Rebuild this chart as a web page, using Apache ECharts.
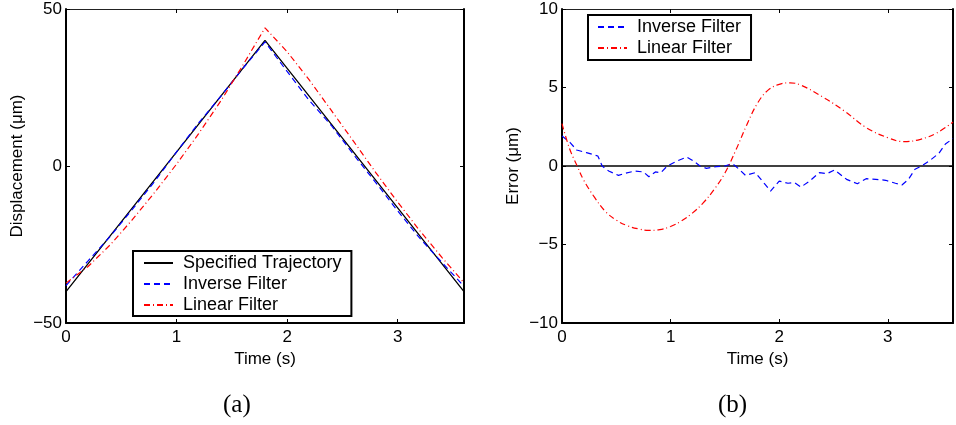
<!DOCTYPE html>
<html>
<head>
<meta charset="utf-8">
<script src="https://cdn.jsdelivr.net/npm/echarts@6/dist/echarts.min.js"></script>
<style>html,body{margin:0;padding:0;background:#fff}#c{width:956px;height:425px}</style>
</head>
<body>
<div id="c"></div>
<script>
// ---- data ----
const dispTime = [0,0.2,0.4,0.6,0.8,1.0,1.2,1.4,1.6,1.8,2.0,2.2,2.4,2.6,2.8,3.0,3.2,3.4,3.6];
const specTime = [0,1.8,3.6];
const specDisp = [-40,40,-40];
const invDisp = [-38.1,-30.2,-22.4,-13.8,-5.0,4.5,13.7,22.2,31.1,39.5,30.1,20.9,12.9,3.7,-5.2,-14.3,-23.0,-30.7,-38.3];
const linDisp = [-37.3,-32.0,-25.1,-17.1,-8.5,0.6,10.3,20.7,32.1,44.0,36.4,27.4,17.7,7.9,-2.0,-11.5,-20.6,-29.1,-37.2];

const errInvTime = [0,0.075,0.135,0.225,0.33,0.37,0.43,0.52,0.58,0.67,0.75,0.8,0.86,0.91,0.97,1.06,1.15,1.21,1.27,1.33,1.42,1.5,1.57,1.63,1.69,1.78,1.87,1.92,2.0,2.08,2.14,2.2,2.28,2.37,2.44,2.51,2.62,2.72,2.8,2.89,2.98,3.07,3.13,3.19,3.25,3.32,3.4,3.47,3.53,3.6];
const errInv = [1.91,1.49,1.02,0.85,0.64,0.0,-0.32,-0.6,-0.47,-0.32,-0.38,-0.68,-0.38,-0.42,0.0,0.32,0.57,0.32,0.0,-0.15,-0.04,0.0,0.15,-0.2,-0.6,-0.42,-1.17,-1.6,-0.96,-1.1,-1.06,-1.34,-0.96,-0.42,-0.49,-0.25,-0.85,-1.13,-0.81,-0.85,-0.91,-1.1,-1.21,-0.85,-0.21,0.04,0.42,0.81,1.4,1.75];
const errLinTime = [0,0.07,0.14,0.2,0.3,0.4,0.5,0.6,0.7,0.8,0.9,1.0,1.1,1.2,1.3,1.4,1.5,1.6,1.7,1.8,1.9,2.0,2.1,2.2,2.4,2.6,2.8,3.0,3.15,3.3,3.45,3.6];
const errLin = [2.7,1.1,0.0,-0.9,-2.0,-2.9,-3.45,-3.8,-4.0,-4.1,-4.05,-3.85,-3.5,-3.0,-2.35,-1.5,-0.45,1.0,2.6,4.0,4.85,5.2,5.3,5.15,4.4,3.5,2.45,1.8,1.55,1.7,2.1,2.8];
const zeroTime = [0,3.6];
const zeroVal = [0,0];

const legendLeft = ['Specified Trajectory','Inverse Filter','Linear Filter'];
const legendRight = ['Inverse Filter','Linear Filter'];
const xTickStep = 1;
const yLeftTickStep = 50;
const yRightTickStep = 5;

// ---- chart ----
const zip = (a,b) => a.map((x,i)=>[x,b[i]]);
const FONT = 'Liberation Sans, Arial, Helvetica, sans-serif';
const minus = v => String(v).replace('-', '\u2212');
const intOnly = v => Number.isInteger(v) ? String(v) : '';

function xAxes(gi, name){
  return [{
    type:'value', gridIndex:gi, min:0, max:3.6, interval:xTickStep,
    name:name, nameLocation:'middle', nameGap:22,
    nameTextStyle:{color:'#000', fontSize:17, fontFamily:FONT},
    axisLine:{onZero:false, lineStyle:{color:'#000', width:2}},
    axisTick:{inside:true, length:4, lineStyle:{color:'#000'}},
    axisLabel:{color:'#000', fontSize:17, fontFamily:FONT, margin:6, formatter:intOnly},
    splitLine:{show:false}
  },{
    type:'value', gridIndex:gi, position:'top', min:0, max:3.6, interval:xTickStep,
    axisLine:{onZero:false, lineStyle:{color:'#222', width:1}},
    axisTick:{inside:true, length:4, lineStyle:{color:'#000'}},
    axisLabel:{show:false}, splitLine:{show:false}
  }];
}
function yAxes(gi, name, mn, mx, step){
  return [{
    type:'value', gridIndex:gi, min:mn, max:mx, interval:step,
    name:name, nameLocation:'middle', nameGap:40, nameRotate:90,
    nameTextStyle:{color:'#000', fontSize:17, fontFamily:FONT},
    axisLine:{onZero:false, lineStyle:{color:'#000', width:2}},
    axisTick:{inside:true, length:4, lineStyle:{color:'#000'}},
    axisLabel:{color:'#000', fontSize:17, fontFamily:FONT, margin:4, formatter:minus},
    splitLine:{show:false}
  },{
    type:'value', gridIndex:gi, position:'right', min:mn, max:mx, interval:step,
    axisLine:{onZero:false, lineStyle:{color:'#000', width:2}},
    axisTick:{inside:true, length:4, lineStyle:{color:'#000'}},
    axisLabel:{show:false}, splitLine:{show:false}
  }];
}
const blueStyle = {color:'#0000ff', width:1.2, type:[6,4]};
const redStyle = {color:'#ff0000', width:1.2, type:[6,3,1,3]};
const blackStyle = {color:'#000', width:1.3, type:'solid'};
function line(name, data, style, xi, yi, smooth){
  return {type:'line', name:name, data:data, xAxisIndex:xi, yAxisIndex:yi,
    symbol:'none', showSymbol:false, smooth:smooth||false, lineStyle:style,
    itemStyle:{color:style.color}, emphasis:{disabled:true}, animation:false};
}
const legendCommon = {
  orient:'vertical', itemWidth:29, itemHeight:14, itemGap:3,
  backgroundColor:'#fff', borderColor:'#000', borderWidth:2,
  textStyle:{color:'#000', fontSize:18, fontFamily:FONT, padding:[0,0,0,5]},
  itemStyle:{opacity:0, borderWidth:0}
};

const chart = echarts.init(document.getElementById('c'), null, {renderer:'canvas'});
chart.setOption({
  animation:false,
  grid:[
    {left:66, top:9, width:398, height:314},
    {left:562, top:9, width:400, height:314}
  ],
  xAxis:[...xAxes(0,'Time (s)'), ...xAxes(1,'Time (s)')],
  yAxis:[...yAxes(0,'Displacement (\u03bcm)',-50,50,yLeftTickStep), ...yAxes(1,'Error (\u03bcm)',-10,10,yRightTickStep)],
  legend:[
    Object.assign({}, legendCommon, {data:legendLeft, left:133, top:251, padding:[3,10,2,10]}),
    Object.assign({}, legendCommon, {data:legendRight, left:588, top:15, padding:[3,10,3,9]})
  ],
  title:[
    {text:'(a)', left:218, top:388, textStyle:{fontFamily:'Liberation Serif, serif', fontWeight:'normal', fontSize:25, color:'#000'}},
    {text:'(b)', left:713, top:388, textStyle:{fontFamily:'Liberation Serif, serif', fontWeight:'normal', fontSize:25, color:'#000'}}
  ],
  series:[
    line('Specified Trajectory', zip(specTime,specDisp), blackStyle, 0, 0),
    line('Inverse Filter', zip(dispTime,invDisp), blueStyle, 0, 0),
    line('Linear Filter', zip(dispTime,linDisp), redStyle, 0, 0),
    line('zero', zip(zeroTime,zeroVal), blackStyle, 2, 2),
    line('Inverse Filter', zip(errInvTime,errInv), blueStyle, 2, 2),
    line('Linear Filter', zip(errLinTime,errLin), redStyle, 2, 2, 0.4)
  ]
});
</script>
</body>
</html>
